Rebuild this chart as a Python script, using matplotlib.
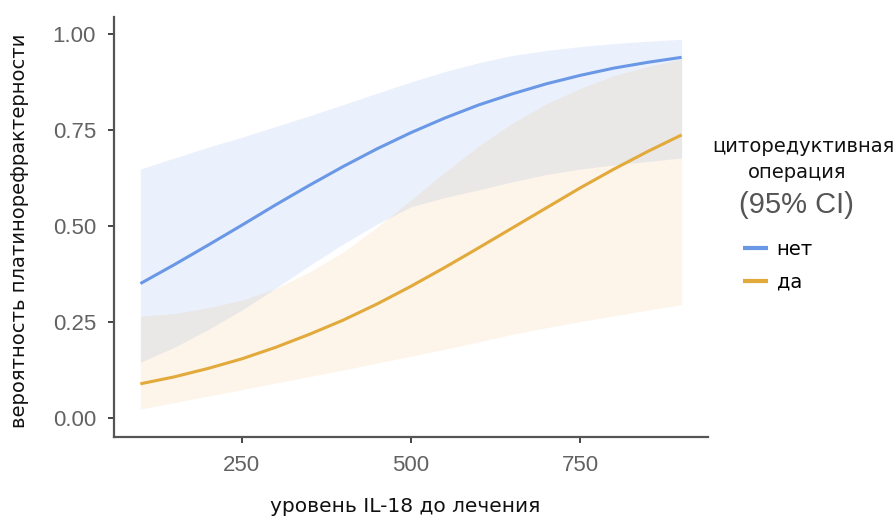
import numpy as np
import matplotlib
matplotlib.use('Agg')
import matplotlib.pyplot as plt

# IL-18 level before treatment
il18 = [100, 150, 200, 250, 300, 350, 400, 450, 500,
        550, 600, 650, 700, 750, 800, 850, 900]

# cytoreductive surgery = "нет"
net_fit = [0.350, 0.399, 0.450, 0.502, 0.555, 0.606, 0.655, 0.701, 0.743,
           0.781, 0.815, 0.844, 0.870, 0.892, 0.911, 0.926, 0.939]
net_lo = [0.145, 0.184, 0.230, 0.281, 0.338, 0.397, 0.453, 0.505, 0.550,
          0.574, 0.594, 0.615, 0.634, 0.648, 0.659, 0.668, 0.677]
net_hi = [0.648, 0.677, 0.705, 0.731, 0.759, 0.787, 0.816, 0.846, 0.875,
          0.902, 0.925, 0.944, 0.957, 0.967, 0.975, 0.981, 0.986]

# cytoreductive surgery = "да"
da_fit = [0.089, 0.107, 0.129, 0.154, 0.184, 0.218, 0.255, 0.297, 0.343,
          0.392, 0.443, 0.495, 0.547, 0.599, 0.648, 0.694, 0.737]
da_lo = [0.023, 0.040, 0.057, 0.074, 0.091, 0.108, 0.125, 0.143, 0.161,
         0.179, 0.198, 0.218, 0.235, 0.251, 0.266, 0.281, 0.295]
da_hi = [0.265, 0.272, 0.287, 0.307, 0.337, 0.380, 0.432, 0.497, 0.568,
         0.640, 0.708, 0.768, 0.818, 0.858, 0.892, 0.915, 0.935]

xticks = [250, 500, 750]
yticks = [0.00, 0.25, 0.50, 0.75, 1.00]
labels = ['нет', 'да']
colors = ['#6a98e6', '#e2a93b']

fig = plt.figure(figsize=(8.93, 5.19), dpi=100)
ax = fig.add_axes([114 / 893, 82 / 519, 594 / 893, 420 / 519])

ax.fill_between(il18, net_lo, net_hi, color='#6495ed', alpha=0.13, lw=0)
ax.fill_between(il18, da_lo, da_hi, color='#eea040', alpha=0.11, lw=0)
ax.plot(il18, net_fit, color=colors[0], lw=2.2, label=labels[0],
        solid_capstyle='butt')
ax.plot(il18, da_fit, color=colors[1], lw=2.2, label=labels[1],
        solid_capstyle='butt')

ax.set_xlim(61, 939)
ax.set_ylim(-0.0495, 1.044)
ax.set_xticks(xticks)
ax.set_yticks(yticks)
ax.set_xticklabels([str(t) for t in xticks])
ax.set_yticklabels(['{:.2f}'.format(t) for t in yticks])

for side in ['top', 'right']:
    ax.spines[side].set_visible(False)
for side in ['left', 'bottom']:
    ax.spines[side].set_color('#555555')
    ax.spines[side].set_linewidth(1.6)
ax.tick_params(length=4, width=1.4, color='#444444', labelcolor='#626262',
               labelsize=16, pad=9)
for lab in ax.get_xticklabels() + ax.get_yticklabels():
    lab.set_family('Liberation Sans')

ax.set_ylabel('вероятность платинорефрактерности', fontsize=14,
              family='DejaVu Sans', color='#111111')
ax.yaxis.set_label_coords(-0.143, 0.49)
ax.set_xlabel('уровень IL-18 до лечения', fontsize=14.5,
              family='DejaVu Sans', color='#111111')
ax.xaxis.set_label_coords(0.49, -0.143)

# legend title
fig.text(803 / 893, 1 - 147 / 519, 'циторедуктивная', fontsize=14,
         family='DejaVu Sans', ha='center', va='center', color='#111111')
fig.text(797 / 893, 1 - 173 / 519, 'операция', fontsize=14,
         family='DejaVu Sans', ha='center', va='center', color='#111111')
fig.text(796 / 893, 1 - 205 / 519, '(95% CI)', fontsize=21,
         family='Liberation Sans', ha='center', va='center', color='#555555')

leg = fig.legend(loc='upper left', bbox_to_anchor=(733 / 893, 1 - 230 / 519),
                 frameon=False, handlelength=1.3,
                 handletextpad=0.45, labelspacing=0.7, borderpad=0,
                 prop={'family': 'DejaVu Sans', 'size': 14})
for line in leg.get_lines():
    line.set_linewidth(3)

fig.savefig('out.png', dpi=100)
